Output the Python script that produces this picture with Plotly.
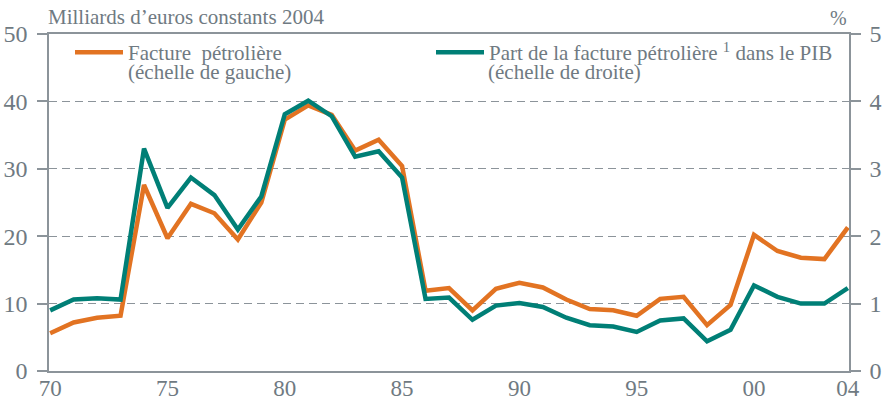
import plotly.graph_objects as go

years = list(range(1970, 2005))
facture = [5.6, 7.2, 7.9, 8.2, 27.6, 19.7, 24.8, 23.4, 19.5, 25.0,
           37.3, 39.4, 38.0, 32.7, 34.3, 30.4, 11.9, 12.3, 9.0, 12.2,
           13.1, 12.4, 10.6, 9.2, 9.0, 8.2, 10.7, 11.0, 6.8, 9.8,
           20.2, 17.8, 16.8, 16.6, 21.3]
part_pib = [0.90, 1.06, 1.08, 1.06, 3.30, 2.42, 2.87, 2.61, 2.10, 2.59,
            3.81, 4.01, 3.78, 3.18, 3.26, 2.87, 1.07, 1.09, 0.76, 0.97,
            1.01, 0.95, 0.79, 0.68, 0.66, 0.58, 0.75, 0.78, 0.44, 0.61,
            1.27, 1.10, 1.00, 1.00, 1.23]
xtick_vals = [1970, 1975, 1980, 1985, 1990, 1995, 2000, 2004]
xtick_text = ["70", "75", "80", "85", "90", "95", "00", "04"]

ORANGE = "#E27322"
TEAL = "#007F76"
GREY = "#6F7A82"
AXIS = "#8C949A"
FONT = "Liberation Serif, Times New Roman, serif"
LFS = 21
TFS = 24

fig = go.Figure()
fig.add_trace(go.Scatter(
    x=years, y=facture, mode="lines", name="Facture\u2002pétrolière",
    line=dict(color=ORANGE, width=4.5), yaxis="y", legend="legend"))
fig.add_trace(go.Scatter(
    x=years, y=part_pib, mode="lines",
    name="Part de la facture pétrolière <sup>1</sup> dans le PIB",
    line=dict(color=TEAL, width=4.5), yaxis="y2", legend="legend2"))

leg_common = dict(orientation="h", yanchor="top", y=1.006, xanchor="left",
                  font=dict(size=LFS, color=GREY, family=FONT),
                  bgcolor="rgba(0,0,0,0)", itemwidth=48)

fig.update_layout(
    width=886, height=400,
    margin=dict(l=49, r=37, t=34, b=29),
    paper_bgcolor="white", plot_bgcolor="white",
    font=dict(family=FONT, color=GREY, size=20),
    showlegend=True,
    legend=dict(x=(70 - 49) / 800, **leg_common),
    legend2=dict(x=(431 - 49) / 800, **leg_common),
    xaxis=dict(range=[1969.95, 2004.05], tickvals=xtick_vals, ticktext=xtick_text,
               showgrid=False, zeroline=False, showline=True, mirror=True,
               linecolor=AXIS, linewidth=1.5, ticks="", ticklen=0, automargin=False,
               ticklabelstandoff=-4,
               tickfont=dict(size=23, color=GREY, family=FONT)),
    yaxis=dict(range=[0, 50], dtick=10, showgrid=True, gridcolor=AXIS, griddash="8px,5px",
               gridwidth=1.2, zeroline=False, showline=True, linecolor=AXIS, linewidth=1.5,
               ticks="outside", ticklen=10, tickcolor=AXIS, tickwidth=1.5, automargin=False,
               ticklabelstandoff=5,
               tickfont=dict(size=TFS, color=GREY, family=FONT)),
    yaxis2=dict(range=[0, 5], dtick=1, overlaying="y", side="right", showgrid=False,
                zeroline=False, showline=True, linecolor=AXIS, linewidth=1.5,
                ticks="outside", ticklen=10, tickcolor=AXIS, tickwidth=1.5, automargin=False,
                ticklabelstandoff=4,
                tickfont=dict(size=TFS, color=GREY, family=FONT)),
    annotations=[
        dict(text="Milliards d\u2019euros constants 2004", xref="paper", yref="paper",
             x=0, y=1, xanchor="left", yanchor="bottom", yshift=3, xshift=-3,
             showarrow=False, font=dict(size=21, color=GREY, family=FONT)),
        dict(text="%", xref="paper", yref="paper", x=1, y=1, xanchor="right",
             yanchor="bottom", xshift=0, yshift=3, showarrow=False,
             font=dict(size=20, color=GREY, family=FONT)),
        dict(text="(échelle de gauche)", xref="paper", yref="paper",
             x=(126 - 49) / 800, y=1, xanchor="left", yanchor="top", yshift=-24,
             showarrow=False, font=dict(size=LFS, color=GREY, family=FONT)),
        dict(text="(échelle de droite)", xref="paper", yref="paper",
             x=(486 - 49) / 800, y=1, xanchor="left", yanchor="top", yshift=-24,
             showarrow=False, font=dict(size=LFS, color=GREY, family=FONT)),
    ],
)

fig.write_html("out.html", config={"displayModeBar": False},
               post_script="document.body.style.margin='0px';document.body.style.overflow='hidden';")
